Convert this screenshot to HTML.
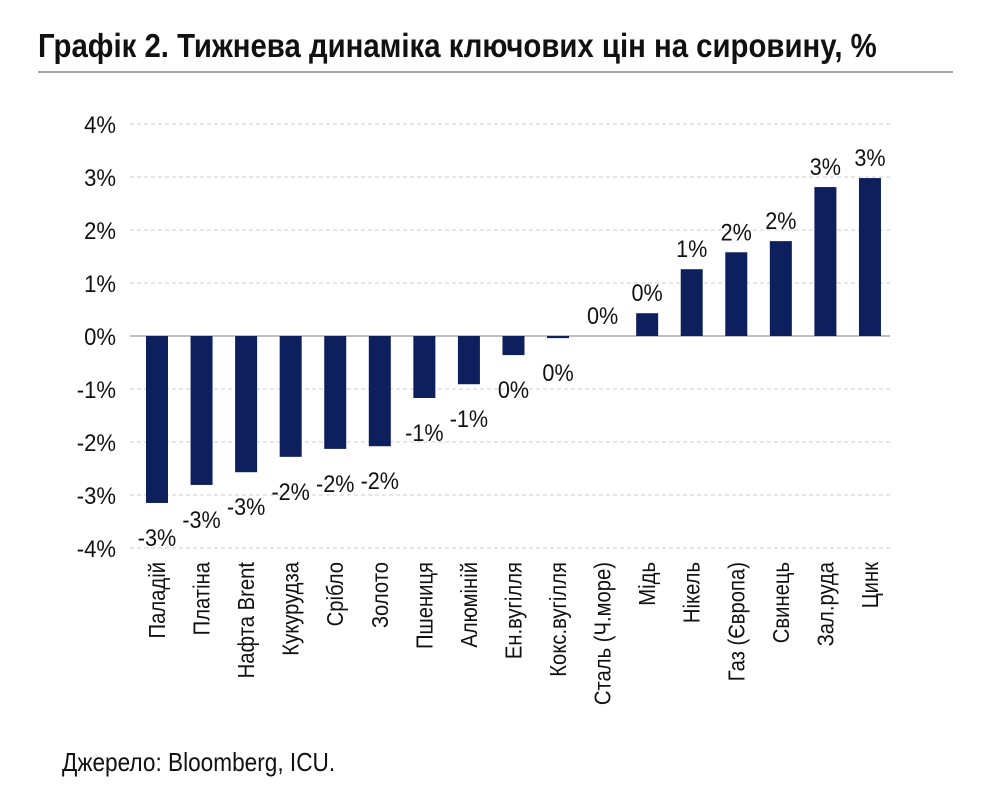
<!DOCTYPE html>
<html><head><meta charset="utf-8"><style>
body{margin:0;background:#fff;}
svg text{font-family:"Liberation Sans",sans-serif;fill:#111;}
</style></head><body>
<svg width="990" height="800" viewBox="0 0 990 800">
<text transform="translate(38,57) scale(0.89,1)" font-size="33" font-weight="bold">Графік 2. Тижнева динаміка ключових цін на сировину, %</text>
<line x1="38" y1="72" x2="953" y2="72" stroke="#888" stroke-width="1.5"/>
<g id="grid"></g><g id="bars"></g><g id="labels"></g>
<text transform="translate(62,771) scale(0.87,1)" font-size="26">Джерело: Bloomberg, ICU.</text>
</svg>
<script>
const categories=["Паладій","Платіна","Нафта Brent","Кукурудза","Срібло","Золото","Пшениця","Алюміній","Ен.вугілля","Кокс.вугілля","Сталь (Ч.море)","Мідь","Нікель","Газ (Європа)","Свинець","Зал.руда","Цинк"];
const values=[-3.15,-2.81,-2.57,-2.28,-2.13,-2.08,-1.17,-0.91,-0.36,-0.04,0,0.43,1.26,1.58,1.79,2.81,2.98];
const valueLabels=["-3%","-3%","-3%","-2%","-2%","-2%","-1%","-1%","0%","0%","0%","0%","1%","2%","2%","3%","3%"];
const ticks=[4,3,2,1,0,-1,-2,-3,-4];
const tickLabels=["4%","3%","2%","1%","0%","-1%","-2%","-3%","-4%"];
const NS="http://www.w3.org/2000/svg";
const y=v=>336-v*53;
const x=i=>157+i*44.56;
function mk(t,a,p){const e=document.createElementNS(NS,t);for(const k in a)e.setAttribute(k,a[k]);document.getElementById(p).appendChild(e);return e;}
ticks.forEach((t,i)=>{
 const g=mk("line",{x1:130,x2:890,y1:y(t),y2:y(t),stroke:t===0?"#999":"#ccc","stroke-dasharray":t===0?"":"4,3","stroke-width":t===0?1.2:1},"grid");
 
 
 const l=mk("text",{transform:`translate(116,${y(t)+9}) scale(0.92,1)`,"text-anchor":"end","font-size":24},"grid");
 l.textContent=tickLabels[i];
 
 
});
categories.forEach((c,i)=>{
 const v=values[i];
 const r=mk("rect",{x:x(i)-11,width:22,y:Math.min(y(v),y(0)),height:Math.abs(y(v)-y(0)),fill:"#0d1f5c"},"bars");
 
 
 const vy=v<0?y(v)+43:y(v)-12;
 const vl=mk("text",{transform:`translate(${x(i)},${vy}) scale(0.9,1)`,"text-anchor":"middle","font-size":24},"labels");
 vl.textContent=valueLabels[i];
 
 
 const cl=mk("text",{x:0,y:0,"text-anchor":"end","font-size":23,transform:`translate(${x(i)+8},562) rotate(-90) scale(0.88,1)`},"labels");
 cl.textContent=c;
 
 
});
</script>
</body></html>
